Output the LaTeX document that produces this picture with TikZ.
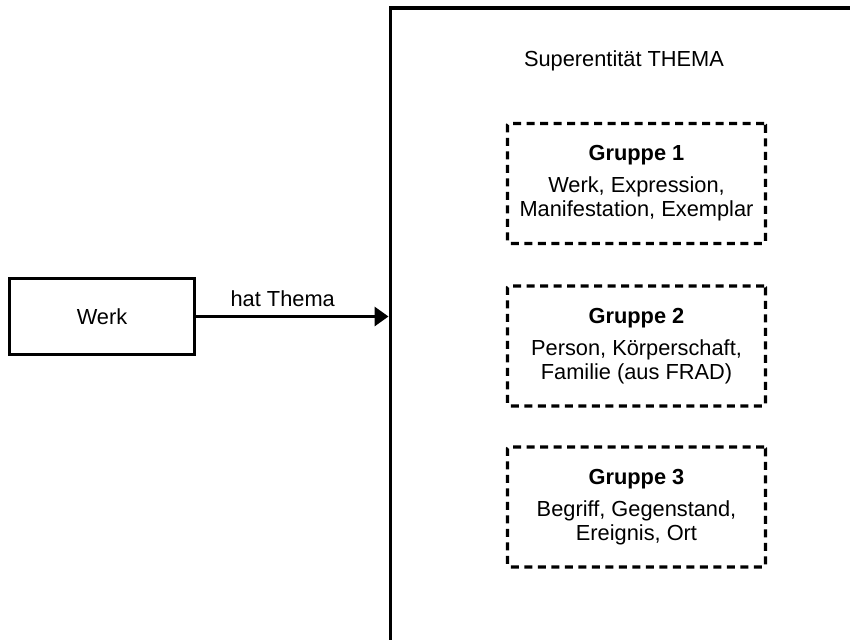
\documentclass[tikz,border=0pt]{standalone}
\usepackage{fontspec}
\setmainfont{Liberation Sans}
\usetikzlibrary{arrows.meta}
\begin{document}
\begin{tikzpicture}[x=1pt,y=-1pt,
  txt/.style={font=\fontsize{21.8}{24}\selectfont, inner sep=0pt},
  solidbox/.style={draw, line width=3.3pt, rectangle, inner sep=0pt},
  groupbox/.style={draw, line width=3.3pt, dash pattern=on 8pt off 5.5pt,
    rounded corners=1.5pt, minimum width=258pt, minimum height=120pt,
    align=center, inner sep=0pt, font=\fontsize{21.8}{24}\selectfont},
  link/.style={line width=3.3pt, -{Triangle[length=14pt,width=19pt]}}]
\clip (0,0) rectangle (850,639);

% outer super-entity frame, running past the right and bottom edges
\node[solidbox, anchor=north west, minimum width=700pt, minimum height=800pt]
  (thema) at (388.5,6.5) {};
\node[txt, anchor=base] (themalabel) at (624,67) {Superentität THEMA};

% the three groups inside the frame
\node[groupbox] (g1) at (636.5,183.5)
  {\textbf{Gruppe 1}\\[8pt]Werk, Expression,\\Manifestation, Exemplar};
\node[groupbox] (g2) at (636.5,346)
  {\textbf{Gruppe 2}\\[8pt]Person, Körperschaft,\\Familie (aus FRAD)};
\node[groupbox] (g3) at (636.5,507)
  {\textbf{Gruppe 3}\\[8pt]Begriff, Gegenstand,\\Ereignis, Ort};

% the work entity and its relation to the frame
\node[solidbox, minimum width=185pt, minimum height=76pt, txt] (werk)
  at (102,316.5) {Werk};
\draw[link] (werk.east) -- node[txt, pos=0.45, anchor=base, yshift=10pt]
  (rel) {hat Thema} (werk.east -| thema.west);
\end{tikzpicture}
\end{document}
